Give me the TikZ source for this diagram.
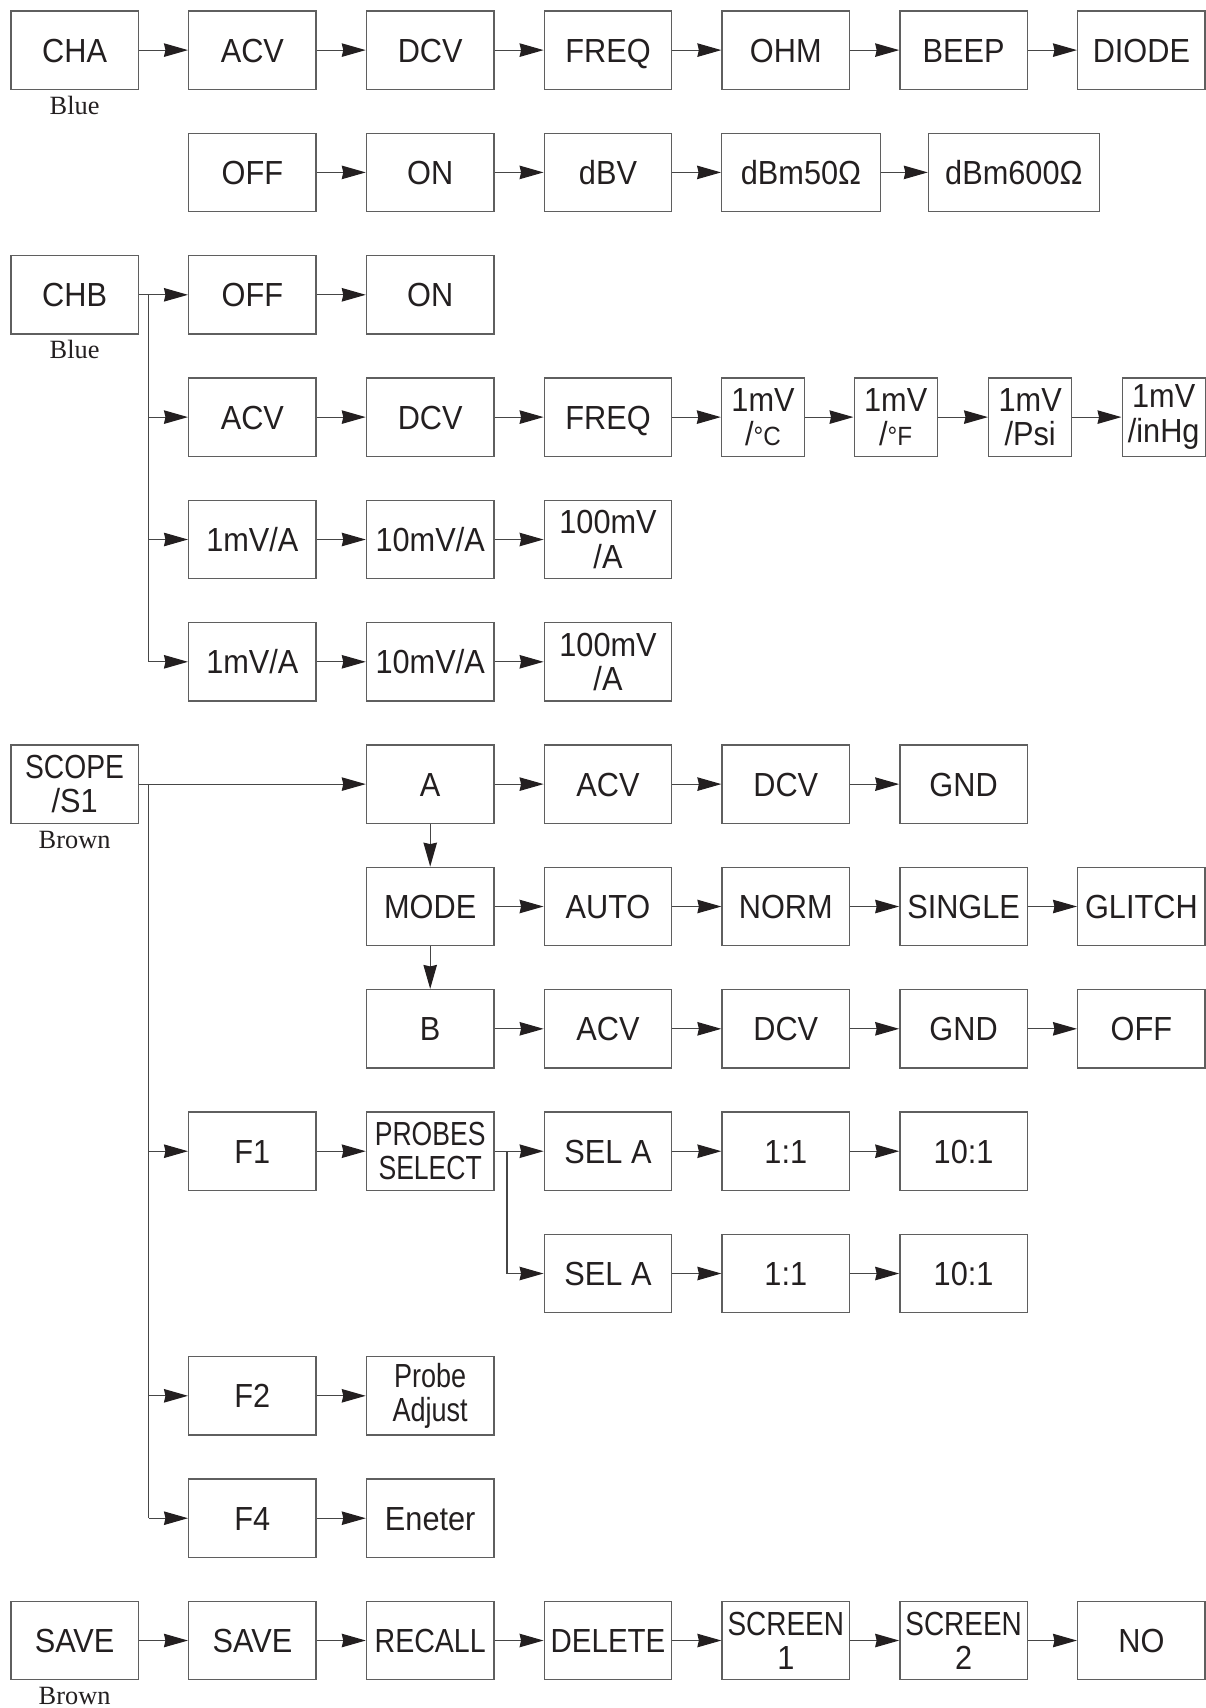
\documentclass[tikz,border=0pt]{standalone}
\usepackage{fontspec}
\usepackage{graphicx}
\setmainfont{Liberation Sans}[FakeStretch=0.92]
\newfontfamily\lblfont{Liberation Serif}
\usetikzlibrary{arrows.meta,calc}
\definecolor{ink}{RGB}{35,31,32}
\definecolor{edgec}{RGB}{95,95,95}
\definecolor{wire}{RGB}{70,70,70}
\newcommand{\cnd}[2][0.88]{\scalebox{#1}[1]{#2}}
\tikzset{
  mbox/.style={draw=edgec, line width=0.028cm, minimum width=2.55cm, minimum height=1.568cm,
    inner sep=0pt, text=ink, font=\fontsize{19pt}{19.5pt}\selectfont, align=center},
  box/.style={mbox, text height=13.6pt, text depth=0pt},
  narrowbox/.style={mbox, minimum width=1.66cm},
  lbl/.style={font=\lblfont\fontsize{15pt}{17pt}\selectfont, text=ink, inner sep=0pt},
  arr/.style={draw=wire, line width=0.024cm, -{Stealth[length=0.48cm,width=0.27cm,inset=0.03cm,color=ink]}},
  ln/.style={draw=wire, line width=0.024cm},
}
\begin{document}
\begin{tikzpicture}[x=0.02cm,y=-0.02cm]
\useasboundingbox (0,0) rectangle (1206,1708);
% row 0
\node[box] (cha) at (74.6,50.1) {CHA};
\node[box] (acv0) at (252.4,50.1) {ACV};
\node[box] (dcv0) at (430.2,50.1) {DCV};
\node[box] (freq0) at (608.0,50.1) {FREQ};
\node[box] (ohm0) at (785.8,50.1) {OHM};
\node[box] (beep0) at (963.6,50.1) {BEEP};
\node[box] (diode0) at (1141.4,50.1) {DIODE};
\node[lbl] (blue1) at (74.6,105.7) {Blue};
% row 1
\node[box] (off1) at (252.4,172.4) {OFF};
\node[box] (on1) at (430.2,172.4) {ON};
\node[box] (dbv1) at (608.0,172.4) {dBV};
\node[box, minimum width=3.17cm] (dbm50) at (801.0,172.4) {dBm50Ω};
\node[box, minimum width=3.416cm] (dbm600) at (1013.9,172.4) {dBm600Ω};
% row 2
\node[box] (chb) at (74.6,294.8) {CHB};
\node[lbl] (blue2) at (74.6,349.9) {Blue};
\node[box] (off2) at (252.4,294.8) {OFF};
\node[box] (on2) at (430.2,294.8) {ON};
% row 3
\node[box] (acv3) at (252.4,417.1) {ACV};
\node[box] (dcv3) at (430.2,417.1) {DCV};
\node[box] (freq3) at (608.0,417.1) {FREQ};
\node[narrowbox] (mc) at (763.0,417.1) {1mV\\/{\fontsize{15pt}{19.5pt}\selectfont °C}};
\node[narrowbox] (mf) at (895.7,417.1) {1mV\\/{\fontsize{15pt}{19.5pt}\selectfont °F}};
\node[narrowbox] (mpsi) at (1030.2,417.1) {1mV\\/Psi};
\node[narrowbox] (mhg) at (1163.7,417.1) {1mV\\/inHg};
% row 4
\node[box] (a4a) at (252.4,539.5) {1mV/A};
\node[box] (a4b) at (430.2,539.5) {10mV/A};
\node[mbox] (a4c) at (608.0,539.5) {100mV\\/A};
% row 5
\node[box] (a5a) at (252.4,661.8) {1mV/A};
\node[box] (a5b) at (430.2,661.8) {10mV/A};
\node[mbox] (a5c) at (608.0,661.8) {100mV\\/A};
% row 6
\node[mbox] (scope) at (74.6,784.1) {\cnd[0.92]{SCOPE}\\/S1};
\node[lbl] (brown1) at (74.6,839.5) {Brown};
\node[box] (a6) at (430.2,784.1) {A};
\node[box] (acv6) at (608.0,784.1) {ACV};
\node[box] (dcv6) at (785.8,784.1) {DCV};
\node[box] (gnd6) at (963.6,784.1) {GND};
% row 7
\node[box] (mode7) at (430.2,906.5) {MODE};
\node[box] (auto7) at (608.0,906.5) {AUTO};
\node[box] (norm7) at (785.8,906.5) {NORM};
\node[box] (single7) at (963.6,906.5) {SINGLE};
\node[box] (glitch7) at (1141.4,906.5) {GLITCH};
% row 8
\node[box] (b8) at (430.2,1028.8) {B};
\node[box] (acv8) at (608.0,1028.8) {ACV};
\node[box] (dcv8) at (785.8,1028.8) {DCV};
\node[box] (gnd8) at (963.6,1028.8) {GND};
\node[box] (off8) at (1141.4,1028.8) {OFF};
% row 9
\node[box] (f1) at (252.4,1151.2) {F1};
\node[mbox] (probes) at (430.2,1151.2) {\cnd[0.865]{PROBES}\\\cnd[0.865]{SELECT}};
\node[box] (sela9) at (608.0,1151.2) {SEL A};
\node[box] (one9) at (785.8,1151.2) {1:1};
\node[box] (ten9) at (963.6,1151.2) {10:1};
% row 10
\node[box] (sela10) at (608.0,1273.5) {SEL A};
\node[box] (one10) at (785.8,1273.5) {1:1};
\node[box] (ten10) at (963.6,1273.5) {10:1};
% row 11
\node[box] (f2) at (252.4,1395.8) {F2};
\node[mbox] (padj) at (430.2,1395.8) {\cnd{Probe}\\\cnd{Adjust}};
% row 12
\node[box] (f4) at (252.4,1518.2) {F4};
\node[box] (eneter) at (430.2,1518.2) {Eneter};
% row 13
\node[box] (save0) at (74.6,1640.5) {SAVE};
\node[lbl] (brown2) at (74.6,1695.5) {Brown};
\node[box] (save1) at (252.4,1640.5) {SAVE};
\node[box] (recall) at (430.2,1640.5) {\cnd[0.93]{RECALL}};
\node[box] (delete) at (608.0,1640.5) {\cnd[0.96]{DELETE}};
\node[mbox] (scr1) at (785.8,1640.5) {\cnd[0.91]{SCREEN}\\1};
\node[mbox] (scr2) at (963.6,1640.5) {\cnd[0.91]{SCREEN}\\2};
\node[box] (no13) at (1141.4,1640.5) {NO};

% straight chains
\foreach \a/\b in {cha/acv0, acv0/dcv0, dcv0/freq0, freq0/ohm0, ohm0/beep0, beep0/diode0,
  off1/on1, on1/dbv1, dbv1/dbm50, dbm50/dbm600,
  chb/off2, off2/on2,
  acv3/dcv3, dcv3/freq3, freq3/mc, mc/mf, mf/mpsi, mpsi/mhg,
  a4a/a4b, a4b/a4c, a5a/a5b, a5b/a5c,
  scope/a6, a6/acv6, acv6/dcv6, dcv6/gnd6,
  mode7/auto7, auto7/norm7, norm7/single7, single7/glitch7,
  b8/acv8, acv8/dcv8, dcv8/gnd8, gnd8/off8,
  f1/probes, probes/sela9, sela9/one9, one9/ten9,
  sela10/one10, one10/ten10,
  f2/padj, f4/eneter,
  save0/save1, save1/recall, recall/delete, delete/scr1, scr1/scr2, scr2/no13,
  a6/mode7, mode7/b8}
  \draw[arr] (\a) -- (\b);

% CHB bus
\coordinate (chbbus) at ($(chb.east)+(9.6,0)$);
\draw[ln] (chbbus) -- (chbbus |- a5a.west);
\foreach \t in {acv3, a4a, a5a}
  \draw[arr] (chbbus |- \t.west) -- (\t.west);

% SCOPE bus
\coordinate (scbus) at ($(scope.east)+(9.6,0)$);
\draw[ln] (scbus) -- (scbus |- f4.west);
\foreach \t in {f1, f2, f4}
  \draw[arr] (scbus |- \t.west) -- (\t.west);

% PROBES bus
\coordinate (pbus) at ($(probes.east)+(12.4,0)$);
\draw[ln] (pbus) -- (pbus |- sela10.west);
\draw[arr] (pbus |- sela10.west) -- (sela10.west);
\end{tikzpicture}
\end{document}
